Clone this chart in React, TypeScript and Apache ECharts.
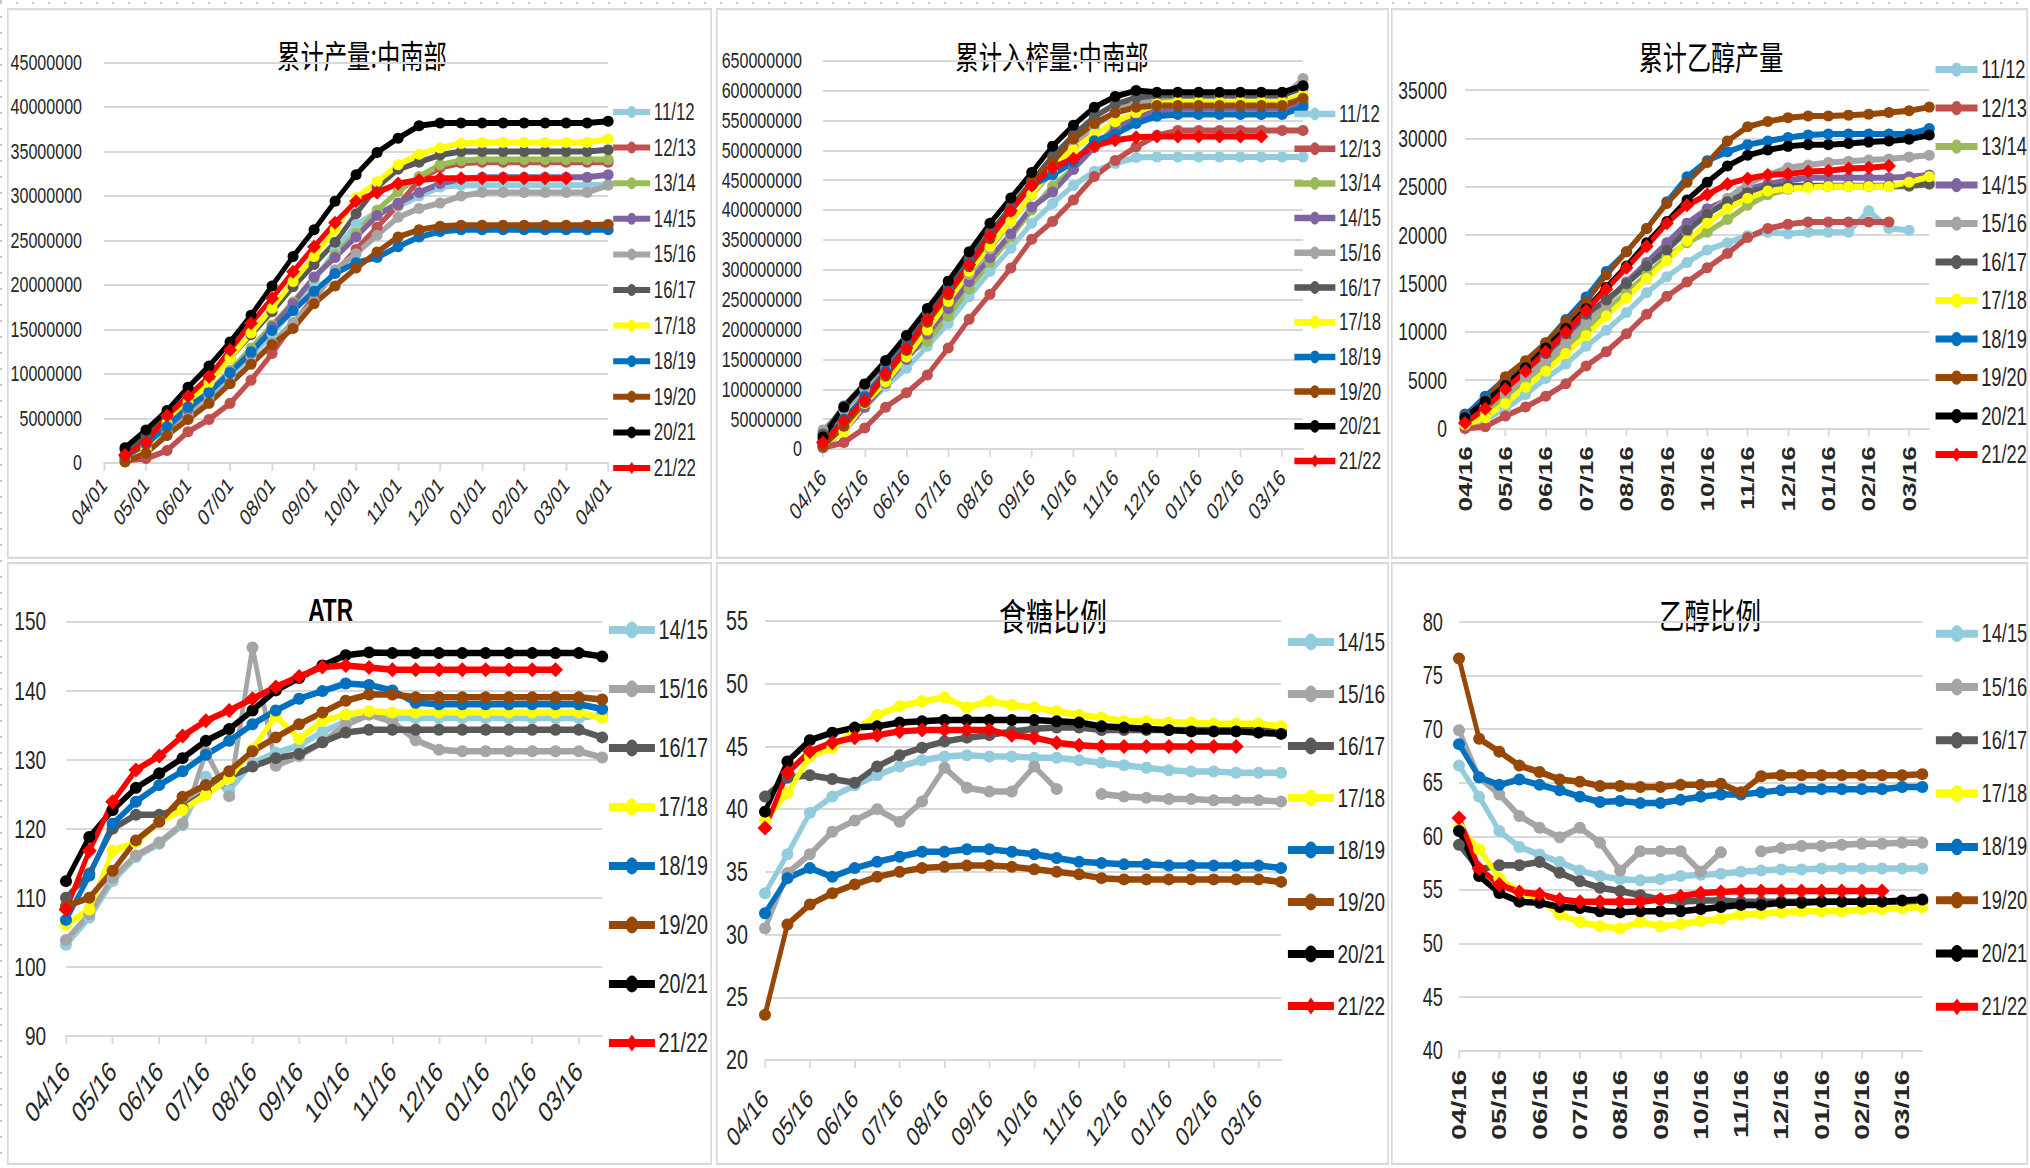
import React, { useEffect, useRef } from "react";
import * as echarts from "echarts";

// ---------------- categories ----------------
const CAT_APR01 = ["04/01","04/16","05/01","05/16","06/01","06/16","07/01","07/16","08/01","08/16","09/01","09/16","10/01","10/16","11/01","11/16","12/01","12/16","01/01","01/16","02/01","02/16","03/01","03/16","04/01"];
const CAT_APR16 = ["04/16","05/01","05/16","06/01","06/16","07/01","07/16","08/01","08/16","09/01","09/16","10/01","10/16","11/01","11/16","12/01","12/16","01/01","01/16","02/01","02/16","03/01","03/16","04/01"];

const SEASONS_TOP = ["11/12","12/13","13/14","14/15","15/16","16/17","17/18","18/19","19/20","20/21","21/22"];
const SEASONS_BOTTOM = ["14/15","15/16","16/17","17/18","18/19","19/20","20/21","21/22"];
const COLORS_TOP = ["#93CDDD","#C0504D","#9BBB59","#8064A2","#A5A5A5","#595959","#FFFF00","#0070C0","#974806","#000000","#FF0000"];
const COLORS_BOTTOM = ["#93CDDD","#A5A5A5","#595959","#FFFF00","#0070C0","#974806","#000000","#FF0000"];

// ---------------- 累计产量:中南部 (million, from 04/16) ----------------
const PROD_1112 = [0.5,1.5,3.4,5.5,7.6,9.8,12.0,14.5,17.2,20.4,23.9,26.8,28.2,28.8,30.0,31.0,31.2,31.2,31.2,31.2,31.2,31.2,31.2,31.3];
const PROD_1213 = [0.3,0.5,1.4,3.5,4.9,6.7,9.3,12.3,15.6,18.7,21.4,24.0,26.5,29.0,31.8,33.2,33.7,33.8,33.8,33.8,33.8,33.8,33.8,33.8];
const PROD_1314 = [0.5,1.8,3.8,5.9,8.0,10.4,12.9,15.5,18.1,20.8,23.4,25.8,28.4,30.5,32.2,33.5,34.0,34.1,34.1,34.1,34.1,34.1,34.1,34.1];
const PROD_1415 = [0.6,2.0,4.0,6.0,8.0,10.2,12.3,15.3,17.9,20.9,23.1,25.4,27.8,29.2,30.4,31.4,31.9,32.1,32.1,32.1,32.1,32.1,32.1,32.4];
const PROD_1516 = [0.8,1.8,3.2,5.0,7.0,9.0,11.2,13.5,15.8,18.2,21.7,23.5,25.6,27.6,28.6,29.2,30.0,30.4,30.4,30.4,30.4,30.4,30.4,31.2];
const PROD_1617 = [1.5,3.0,5.0,7.2,9.4,11.8,14.4,17.0,19.8,22.3,24.8,28.0,31.0,33.0,33.8,34.6,35.0,35.0,35.0,35.0,35.0,35.0,35.0,35.2];
const PROD_1718 = [0.4,1.5,4.5,6.8,9.0,11.8,14.6,17.4,20.4,23.2,26.2,29.8,31.6,33.5,34.7,35.4,35.9,36.0,36.0,36.0,36.0,36.0,36.0,36.4];
const PROD_1819 = [0.7,2.1,4.1,6.3,7.9,10.1,12.5,14.9,17.1,19.3,21.3,22.5,23.1,24.3,25.4,26.0,26.2,26.2,26.2,26.2,26.2,26.2,26.2,26.2];
const PROD_1920 = [0.1,1.1,3.1,4.9,6.7,8.9,11.1,13.3,15.1,17.9,19.9,21.9,23.7,25.4,26.2,26.6,26.7,26.7,26.7,26.7,26.7,26.7,26.7,26.8];
const PROD_2021 = [1.7,3.7,5.9,8.5,10.9,13.6,16.6,19.9,23.2,26.2,29.4,32.4,34.9,36.5,37.9,38.2,38.2,38.2,38.2,38.2,38.2,38.2,38.2,38.4];
const PROD_2122 = [0.9,2.3,5.3,7.5,9.7,12.7,15.7,18.5,21.5,24.3,27.0,29.4,30.4,31.4,31.8,32.0,32.0,32.0,32.0,32.0,32.0,32.0,null,null];

// ---------------- 累计入榨量:中南部 (million) ----------------
const CRUSH_1112 = [10,40,70,105,135,172,210,255,297,336,378,411,441,465,478,488,489,489,489,489,489,489,489,489];
const CRUSH_1213 = [2,11,35,70,94,124,169,217,259,303,351,381,417,456,483,506,525,533,533,533,533,533,533,533];
const CRUSH_1314 = [5,45,85,120,158,180,222,268,312,355,400,440,470,505,540,560,570,575,575,575,575,575,575,580];
const CRUSH_1415 = [5,30,70,110,150,192,235,280,320,360,405,430,468,505,535,555,565,570,570,570,570,570,570,578];
const CRUSH_1516 = [32,65,100,135,172,210,250,292,335,380,425,465,505,540,565,580,585,588,588,588,588,588,588,620];
const CRUSH_1617 = [25,72,108,145,185,228,272,318,362,405,448,490,525,556,577,588,592,592,592,592,592,592,592,605];
const CRUSH_1718 = [8,29,76,112,154,199,247,297,339,381,426,471,501,527,548,563,578,581,581,581,581,581,581,593];
const CRUSH_1819 = [14,50,88,130,172,217,265,312,357,399,441,459,480,516,527,545,557,560,560,560,560,560,560,572];
const CRUSH_1920 = [5,38,78,122,165,212,258,305,352,398,447,480,519,545,563,572,575,575,575,575,575,575,575,587];
const CRUSH_2021 = [20,70,109,148,190,235,281,330,378,420,463,507,542,572,590,600,597,597,597,597,597,597,597,608];
const CRUSH_2122 = [11,47,82,127,169,217,263,309,357,399,441,471,486,507,517,522,523,523,523,523,523,523,null,null];

// ---------------- 累计乙醇产量 ----------------
const ETH_1112 = [180,920,2030,3510,5170,6650,8490,10150,12000,14030,15690,17170,18460,19200,19940,20300,20120,20300,20300,20300,22520,20670,20490,null];
const ETH_1213 = [0,180,1290,2220,3320,4610,6460,7940,9780,11810,13660,15140,16610,18090,19750,20670,21120,21340,21340,21340,21340,21340,null,null];
const ETH_1314 = [370,1480,3320,4980,6650,8310,10150,12180,14030,15880,17720,19200,20300,21600,23070,24180,24740,25030,25030,25030,25030,25030,25030,25290];
const ETH_1415 = [550,2220,3880,5540,7380,9410,11260,13110,15140,17170,19200,21230,22710,23630,24740,25290,25660,25920,25920,25920,25920,25920,26030,26210];
const ETH_1516 = [1100,2220,3690,5350,7010,8860,10890,12920,14950,16800,18460,20300,22150,23810,25290,26210,26950,27250,27500,27620,27760,27870,28060,28240];
const ETH_1617 = [1480,2770,4430,6090,7750,9780,11810,13290,14950,16800,18460,20490,22150,23440,24370,24920,25100,25100,25100,25100,25100,25100,25100,25290];
const ETH_1718 = [370,1110,2580,4250,5910,7750,9600,11630,13480,15510,17350,19380,21230,22710,23810,24550,24810,24920,25030,25030,25030,25030,25470,26030];
const ETH_1819 = [1290,3320,5170,6830,8860,11260,13590,16240,18270,20670,23440,26030,27690,28610,29350,29720,30090,30350,30460,30460,30460,30460,30460,31010];
const ETH_1920 = [920,2950,5350,7000,8860,11080,13100,15880,18270,20670,23260,25470,27500,29720,31200,31750,32120,32300,32300,32400,32490,32670,32860,33230];
const ETH_2021 = [1110,2770,4430,6280,8310,10340,12370,14580,16800,19200,21410,23630,25470,27140,28240,28800,29170,29350,29350,29460,29610,29720,29900,30350];
const ETH_2122 = [550,2030,4060,5910,7940,9970,12180,14400,16610,18830,21230,23070,24180,25290,25840,26210,26320,26580,26660,26880,26950,27140,null,null];

// ---------------- ATR ----------------
const ATR_1415 = [103.2,107.1,112.4,115.9,117.8,120.5,127.5,125.5,129.5,131.0,132.0,134.0,135.5,136.5,136.0,136.0,136.0,136.0,136.0,136.0,136.0,136.0,136.0,136.5];
const ATR_1516 = [103.9,107.6,112.9,116.1,118.0,120.7,131.1,124.7,146.2,129.1,130.5,132.5,135.0,136.5,135.5,132.8,131.4,131.2,131.2,131.2,131.2,131.2,131.2,130.3];
const ATR_1617 = [110.0,113.5,120.0,122.0,122.0,123.0,125.2,127.5,129.0,130.2,130.8,132.5,133.9,134.3,134.3,134.3,134.3,134.3,134.3,134.3,134.3,134.3,134.3,133.2];
const ATR_1718 = [106.1,108.3,116.8,118.0,121.0,122.7,124.9,127.3,131.5,136.3,133.0,135.6,136.5,137.0,136.8,136.8,136.8,136.8,136.8,136.8,136.8,136.8,136.8,136.0];
const ATR_1819 = [106.8,113.2,120.7,123.9,126.3,128.3,130.7,132.7,135.1,137.1,138.8,139.9,141.0,140.8,140.0,138.2,138.0,138.0,138.0,138.0,138.0,138.0,138.0,137.3];
const ATR_1920 = [108.8,110.0,113.9,118.3,121.0,124.6,126.3,128.3,131.2,133.2,135.1,136.8,138.5,139.4,139.4,139.0,139.0,139.0,139.0,139.0,139.0,139.0,139.0,138.7];
const ATR_2021 = [112.4,118.8,122.7,125.9,128.0,130.2,132.7,134.4,137.1,140.0,141.8,143.6,145.1,145.5,145.4,145.4,145.4,145.4,145.4,145.4,145.4,145.4,145.4,144.9];
const ATR_2122 = [108.3,116.8,123.9,128.5,130.5,133.4,135.6,137.1,138.8,140.5,142.0,143.4,143.6,143.3,143.0,143.0,143.0,143.0,143.0,143.0,143.0,143.0,null,null];

// ---------------- 食糖比例 ----------------
const SUGAR_1415 = [33.3,36.4,39.7,41.0,41.9,42.7,43.4,43.9,44.2,44.3,44.2,44.2,44.1,44.1,43.9,43.7,43.5,43.3,43.1,43.0,43.0,42.9,42.9,42.9];
const SUGAR_1516 = [30.5,34.9,36.4,38.2,39.1,40.0,39.0,40.6,43.3,41.7,41.4,41.4,43.4,41.6,null,41.2,41.0,40.9,40.8,40.8,40.7,40.7,40.7,40.6];
const SUGAR_1617 = [41.0,42.5,42.7,42.4,42.1,43.4,44.3,44.9,45.4,45.7,45.9,46.2,46.4,46.5,46.5,46.3,46.3,46.3,46.3,46.3,46.3,46.3,46.3,46.2];
const SUGAR_1718 = [39.1,41.3,44.2,44.9,46.3,47.5,48.2,48.6,48.9,48.1,48.6,48.3,48.1,47.8,47.5,47.3,47.0,47.0,46.9,46.9,46.8,46.8,46.8,46.6];
const SUGAR_1819 = [31.7,34.5,35.3,34.6,35.3,35.8,36.2,36.6,36.6,36.8,36.8,36.6,36.4,36.1,35.8,35.7,35.6,35.6,35.5,35.5,35.5,35.5,35.5,35.3];
const SUGAR_1920 = [23.6,30.8,32.4,33.3,34.0,34.6,35.0,35.3,35.4,35.5,35.5,35.4,35.2,35.0,34.8,34.5,34.4,34.4,34.4,34.4,34.4,34.4,34.4,34.2];
const SUGAR_2021 = [39.8,43.8,45.5,46.1,46.5,46.6,46.9,47.0,47.1,47.1,47.1,47.1,47.1,47.0,46.9,46.6,46.5,46.4,46.3,46.2,46.2,46.2,46.1,46.0];
const SUGAR_2122 = [38.5,42.9,44.6,45.3,45.7,45.9,46.2,46.3,46.3,46.3,46.3,45.9,45.7,45.3,45.1,45.0,45.0,45.0,45.0,45.0,45.0,45.0,null,null];

// ---------------- 乙醇比例 ----------------
const ETHR_1415 = [66.6,63.7,60.5,59.0,58.3,57.6,56.8,56.3,56.0,55.9,56.0,56.3,56.4,56.5,56.7,56.8,56.9,56.9,57.0,57.0,57.0,57.0,57.0,57.0];
const ETHR_1516 = [69.9,65.5,63.9,61.9,60.8,59.9,60.8,59.4,56.8,58.6,58.6,58.6,56.7,58.5,null,58.6,58.9,59.1,59.1,59.2,59.3,59.3,59.4,59.4];
const ETHR_1617 = [59.2,56.9,57.3,57.3,57.6,56.6,55.8,55.2,54.9,54.5,54.1,53.9,54.0,54.0,53.9,53.9,53.9,53.9,53.9,53.9,53.9,53.9,53.9,53.9];
const ETHR_1718 = [60.8,58.8,56.1,54.8,54.1,52.7,52.0,51.6,51.4,52.0,51.6,51.8,52.1,52.3,52.7,52.8,52.9,53.0,53.0,53.0,53.2,53.2,53.3,53.4];
const ETHR_1819 = [68.6,65.5,64.8,65.3,64.8,64.3,63.7,63.2,63.3,63.1,63.1,63.4,63.7,63.9,63.9,64.1,64.3,64.4,64.4,64.4,64.4,64.4,64.6,64.6];
const ETHR_1920 = [76.6,69.1,67.9,66.6,66.0,65.3,65.1,64.7,64.7,64.6,64.6,64.8,64.8,64.9,64.1,65.6,65.7,65.7,65.7,65.7,65.7,65.7,65.7,65.8];
const ETHR_2021 = [60.5,56.3,54.7,53.9,53.8,53.4,53.3,53.0,52.9,53.0,53.0,53.0,53.2,53.4,53.6,53.6,53.8,53.8,53.9,53.9,53.9,53.9,54.0,54.1];
const ETHR_2122 = [61.7,57.0,55.5,54.8,54.6,54.1,53.9,53.9,53.9,53.9,54.1,54.4,54.7,54.8,54.9,54.9,54.9,54.9,54.9,54.9,54.9,54.9,null,null];

// ---------------- styling ----------------
// The reference image is horizontally compressed; each panel is drawn wider and squeezed with CSS.
const SQ = 0.73;
const NUM_FONT = "'Liberation Sans', Arial, sans-serif";
const CJK_FONT = "'Noto Sans CJK SC', sans-serif";
const LABEL_COLOR = "#262626";
const GRID_COLOR = "#d9d9d9";

const million = (arr: (number | null)[]) => arr.map((v) => (v == null ? null : v * 1e6));

type Cfg = {
  w: number; h: number;
  title: string; titleX: number; titleY: number; titleSize: number; titleFont: string; titleWeight?: string;
  grid: [number, number, number, number];
  cats: string[];
  names: string[]; colors: string[]; data: (number | null)[][];
  yMin: number; yMax: number; yInt: number; ySize: number; yMargin: number;
  xRotate: number; xMargin: number; xSize: number; xWeight?: string;
  legendLeft: number; legendFirst: number; legendSpacing: number; legendW: number; legendH: number; legendSize: number; legendLine: number;
  lineW: number; symSize: number;
};

// all horizontal measures in cfg are in final (squeezed) page pixels; convert here
function buildOption(c: Cfg) {
  const X = (v: number) => v / SQ;
  const lh = c.legendSize + 3;
  return {
    animation: false,
    grid: { left: X(c.grid[0]), right: X(c.grid[1]), top: c.grid[2], bottom: c.grid[3], containLabel: false },
    xAxis: {
      type: "category",
      data: c.cats,
      boundaryGap: false,
      axisLine: { show: true, lineStyle: { color: GRID_COLOR, width: 2 } },
      axisTick: { show: true, interval: 1, length: 8, lineStyle: { color: GRID_COLOR, width: 2.5 } },
      axisLabel: {
        interval: 1, rotate: c.xRotate, margin: c.xMargin, fontSize: c.xSize,
        fontFamily: NUM_FONT, fontWeight: c.xWeight || "normal", color: LABEL_COLOR,
      },
      splitLine: { show: false },
    },
    yAxis: {
      type: "value", min: c.yMin, max: c.yMax, interval: c.yInt,
      axisLine: { show: false }, axisTick: { show: false },
      axisLabel: { fontSize: c.ySize, fontFamily: NUM_FONT, color: LABEL_COLOR, margin: X(c.yMargin), formatter: (v: number) => String(v) },
      splitLine: { show: true, lineStyle: { color: GRID_COLOR, width: 2 } },
    },
    legend: {
      orient: "vertical",
      left: X(c.legendLeft),
      top: c.legendFirst - lh / 2,
      padding: 0,
      itemGap: c.legendSpacing - lh,
      itemWidth: X(c.legendW),
      itemHeight: c.legendH,
      data: c.names,
      lineStyle: { width: c.legendLine },
      textStyle: { fontSize: c.legendSize, lineHeight: lh, fontFamily: NUM_FONT, color: LABEL_COLOR },
      selectedMode: false,
    },
    series: c.names.map((n, i) => {
      const s = n === "21/22" ? c.symSize + 3 : c.symSize;
      return {
        name: n,
        type: "line",
        data: c.data[i],
        symbol: n === "21/22" ? "diamond" : "circle",
        symbolSize: [X(s), s],
        showSymbol: true,
        showAllSymbol: true,
        connectNulls: false,
        lineStyle: { width: c.lineW, color: c.colors[i] },
        itemStyle: { color: c.colors[i] },
        emphasis: { disabled: true },
      };
    }),
    graphic: [
      {
        type: "rect", silent: true, z: -1,
        shape: { x: 1, y: 1, width: X(c.w) - 2, height: c.h - 2 },
        style: { fill: "none", stroke: GRID_COLOR, lineWidth: 2.5 },
      },
      {
        type: "text", silent: true,
        x: X(c.titleX), y: c.titleY,
        style: {
          text: c.title, fontSize: c.titleSize, fontFamily: c.titleFont, fontWeight: c.titleWeight || "normal",
          fill: "#000", textAlign: "center", textVerticalAlign: "middle", align: "center", verticalAlign: "middle",
        },
      },
    ],
  };
}

const PANELS: { box: [number, number, number, number]; cfg: Cfg }[] = [
  {
    box: [7, 8, 705, 551],
    cfg: {
      w: 705, h: 551, title: "累计产量:中南部", titleX: 355, titleY: 46, titleSize: 32, titleFont: CJK_FONT,
      grid: [97, 104, 54.5, 96], cats: CAT_APR01, names: SEASONS_TOP, colors: COLORS_TOP,
      data: [PROD_1112, PROD_1213, PROD_1314, PROD_1415, PROD_1516, PROD_1617, PROD_1718, PROD_1819, PROD_1920, PROD_2021, PROD_2122].map((a) => [null, ...million(a)]),
      yMin: 0, yMax: 45000000, yInt: 5000000, ySize: 22, yMargin: 22,
      xRotate: 45, xMargin: 18, xSize: 23,
      legendLeft: 604, legendFirst: 104, legendSpacing: 35.6, legendW: 37, legendH: 15, legendSize: 23, legendLine: 6,
      lineW: 6, symSize: 11,
    },
  },
  {
    box: [716, 8, 673, 551],
    cfg: {
      w: 673, h: 551, title: "累计入榨量:中南部", titleX: 336, titleY: 47, titleSize: 32, titleFont: CJK_FONT,
      grid: [107, 86, 52.7, 110], cats: CAT_APR16, names: SEASONS_TOP, colors: COLORS_TOP,
      data: [CRUSH_1112, CRUSH_1213, CRUSH_1314, CRUSH_1415, CRUSH_1516, CRUSH_1617, CRUSH_1718, CRUSH_1819, CRUSH_1920, CRUSH_2021, CRUSH_2122].map((a) => million(a)),
      yMin: 0, yMax: 650000000, yInt: 50000000, ySize: 22, yMargin: 21,
      xRotate: 45, xMargin: 24, xSize: 24,
      legendLeft: 576, legendFirst: 106, legendSpacing: 34.7, legendW: 41, legendH: 16, legendSize: 23, legendLine: 6.5,
      lineW: 6, symSize: 11,
    },
  },
  {
    box: [1391, 8, 637, 551],
    cfg: {
      w: 637, h: 551, title: "累计乙醇产量", titleX: 320, titleY: 47, titleSize: 33, titleFont: CJK_FONT,
      grid: [74, 99, 82, 130.6], cats: CAT_APR16, names: SEASONS_TOP, colors: COLORS_TOP,
      data: [ETH_1112, ETH_1213, ETH_1314, ETH_1415, ETH_1516, ETH_1617, ETH_1718, ETH_1819, ETH_1920, ETH_2021, ETH_2122],
      yMin: 0, yMax: 35000, yInt: 5000, ySize: 24, yMargin: 18,
      xRotate: 90, xMargin: 18, xSize: 26, xWeight: "bold",
      legendLeft: 542, legendFirst: 61.6, legendSpacing: 38.5, legendW: 42, legendH: 18, legendSize: 25, legendLine: 7,
      lineW: 6, symSize: 11,
    },
  },
  {
    box: [7, 562, 705, 603],
    cfg: {
      w: 705, h: 603, title: "ATR", titleX: 323.6, titleY: 48, titleSize: 31, titleFont: NUM_FONT, titleWeight: "bold",
      grid: [59, 110, 59.3, 129], cats: CAT_APR16, names: SEASONS_BOTTOM, colors: COLORS_BOTTOM,
      data: [ATR_1415, ATR_1516, ATR_1617, ATR_1718, ATR_1819, ATR_1920, ATR_2021, ATR_2122],
      yMin: 90, yMax: 150, yInt: 10, ySize: 26, yMargin: 20,
      xRotate: 45, xMargin: 30, xSize: 29,
      legendLeft: 599, legendFirst: 68, legendSpacing: 59, legendW: 46, legendH: 21, legendSize: 27, legendLine: 8,
      lineW: 6.5, symSize: 12,
    },
  },
  {
    box: [716, 562, 673, 603],
    cfg: {
      w: 673, h: 603, title: "食糖比例", titleX: 337, titleY: 52, titleSize: 37, titleFont: CJK_FONT,
      grid: [49, 108, 59, 105], cats: CAT_APR16, names: SEASONS_BOTTOM, colors: COLORS_BOTTOM,
      data: [SUGAR_1415, SUGAR_1516, SUGAR_1617, SUGAR_1718, SUGAR_1819, SUGAR_1920, SUGAR_2021, SUGAR_2122],
      yMin: 20, yMax: 55, yInt: 5, ySize: 27, yMargin: 17,
      xRotate: 45, xMargin: 34, xSize: 27,
      legendLeft: 569, legendFirst: 80, legendSpacing: 52, legendW: 46, legendH: 21, legendSize: 26, legendLine: 8,
      lineW: 6.5, symSize: 12,
    },
  },
  {
    box: [1391, 562, 637, 603],
    cfg: {
      w: 637, h: 603, title: "乙醇比例", titleX: 319, titleY: 52, titleSize: 35, titleFont: CJK_FONT,
      grid: [68, 106, 60, 114.4], cats: CAT_APR16, names: SEASONS_BOTTOM, colors: COLORS_BOTTOM,
      data: [ETHR_1415, ETHR_1516, ETHR_1617, ETHR_1718, ETHR_1819, ETHR_1920, ETHR_2021, ETHR_2122],
      yMin: 40, yMax: 80, yInt: 5, ySize: 25, yMargin: 16,
      xRotate: 90, xMargin: 19, xSize: 28, xWeight: "bold",
      legendLeft: 542, legendFirst: 71.7, legendSpacing: 53.3, legendW: 42, legendH: 21, legendSize: 25, legendLine: 8,
      lineW: 6.5, symSize: 12,
    },
  },
];

function Panel({ box, cfg }: { box: [number, number, number, number]; cfg: Cfg }) {
  const ref = useRef<HTMLDivElement | null>(null);
  useEffect(() => {
    if (!ref.current) return;
    const chart = echarts.init(ref.current, null, { renderer: "svg" });
    chart.setOption(buildOption(cfg) as any);
    return () => chart.dispose();
  }, []);
  return (
    <div
      ref={ref}
      style={{
        position: "absolute", left: box[0], top: box[1], width: box[2] / SQ, height: box[3],
        background: "#fff", transform: `scaleX(${SQ})`, transformOrigin: "0 0",
      }}
    />
  );
}

export default function App() {
  return (
    <div style={{ position: "absolute", left: 0, top: 0, width: 2030, height: 1168, background: "#fff", overflow: "hidden" }}>
      <div
        style={{
          position: "absolute", left: 0, top: 2, width: 2030, height: 2,
          background: "repeating-linear-gradient(to right, #c8c8c8 0 2px, transparent 2px 16px)",
        }}
      />
      <div
        style={{
          position: "absolute", left: 0, top: 0, width: 2, height: 1168,
          background: "repeating-linear-gradient(to bottom, #c8c8c8 0 2px, transparent 2px 16px)",
        }}
      />
      {PANELS.map((p, i) => (
        <Panel key={i} box={p.box} cfg={p.cfg} />
      ))}
    </div>
  );
}
